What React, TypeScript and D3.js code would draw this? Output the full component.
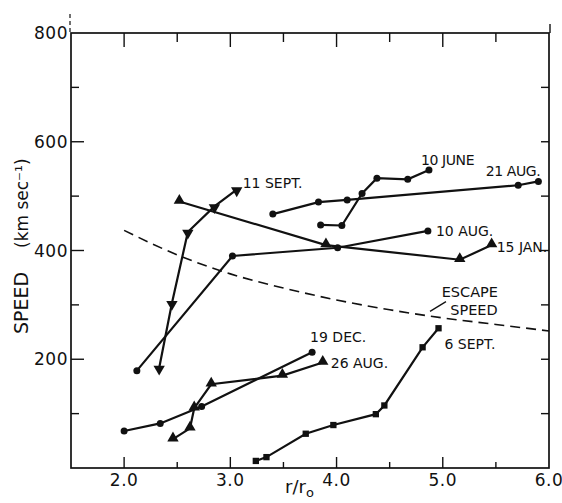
import { useEffect, useRef } from "react";
import * as d3 from "d3";

// r/r0 and speed (km/s)
const sept11 = [[2.33, 184], [2.45, 303], [2.6, 434], [2.85, 481], [3.06, 512]];
const jan15 = [[2.52, 490], [3.9, 410], [5.16, 383], [5.46, 410]];
const aug10 = [[2.12, 179], [3.02, 390], [4.01, 405], [4.86, 436]];
const aug21 = [[3.4, 467], [3.83, 489], [4.1, 493], [5.71, 520], [5.9, 527]];
const june10 = [[3.85, 447], [4.05, 446], [4.24, 505], [4.38, 533], [4.67, 531], [4.87, 548]];
const dec19 = [[2.0, 68], [2.34, 82], [2.73, 113], [3.77, 213]];
const aug26 = [[2.46, 53], [2.62, 73], [2.66, 110], [2.82, 154], [3.49, 170], [3.87, 194]];
const sept6 = [[3.24, 13], [3.34, 20], [3.71, 63], [3.97, 79], [4.37, 99], [4.45, 115], [4.81, 222], [4.96, 257]];
const escape = [[2.0, 437], [2.5, 392], [3.0, 357], [3.5, 331], [4.0, 309], [4.5, 291], [5.0, 276], [5.5, 264], [6.0, 252]];

const xTickLabels = ["2.0", "3.0", "4.0", "5.0", "6.0"];
const yTickLabels = ["200", "400", "600", "800"];

const series = [
  { name: "11 SEPT.", pts: sept11, mark: "down" },
  { name: "15 JAN.", pts: jan15, mark: "up" },
  { name: "10 AUG.", pts: aug10, mark: "circle" },
  { name: "21 AUG.", pts: aug21, mark: "circle" },
  { name: "10 JUNE", pts: june10, mark: "circle" },
  { name: "19 DEC.", pts: dec19, mark: "circle" },
  { name: "26 AUG.", pts: aug26, mark: "up" },
  { name: "6 SEPT.", pts: sept6, mark: "square" },
];

// label offsets (px) from each series' last point
const labelOffset = {
  "11 SEPT.": [6, -2, "start"],
  "15 JAN.": [5, 7, "start"],
  "10 AUG.": [8, 5, "start"],
  "21 AUG.": [2, -5, "end"],
  "10 JUNE": [-8, -5, "start"],
  "19 DEC.": [-2, -10, "start"],
  "26 AUG.": [8, 5, "start"],
  "6 SEPT.": [6, 21, "start"],
};

const W = 562, H = 503;
const FONT = "'DejaVu Sans', sans-serif";

export default function App() {
  const ref = useRef<SVGSVGElement>(null);

  useEffect(() => {
    const svg = d3.select(ref.current);
    svg.selectAll("*").remove();

    const x = d3.scaleLinear().domain([1.5, 6.0]).range([71, 549]);
    const y = d3.scaleLinear().domain([0, 800]).range([468, 33]);
    const [x0, x1] = x.range();
    const [y0, y1] = y.range();

    const ax = svg.append("g").attr("stroke", "#111").attr("fill", "none");
    ax.append("rect").attr("x", x0).attr("y", y1).attr("width", x1 - x0).attr("height", y0 - y1).attr("stroke-width", 1.7);
    // little stubs above the frame
    ax.append("line").attr("x1", x0 - 1).attr("x2", x0 - 1).attr("y1", 14).attr("y2", y1).attr("stroke-dasharray", "4,3").attr("stroke-width", 1.2);
    ax.append("line").attr("x1", x1 + 1).attr("x2", x1 + 1).attr("y1", 24).attr("y2", y1).attr("stroke-width", 1.4);

    d3.range(2.0, 6.01, 0.5).forEach((v) => {
      const major = Math.abs(v - Math.round(v)) < 1e-6;
      if (v < 5.99) {
        ax.append("line").attr("x1", x(v)).attr("x2", x(v)).attr("y1", y0).attr("y2", y0 - (major ? 11 : 6)).attr("stroke-width", 1.4);
        ax.append("line").attr("x1", x(v)).attr("x2", x(v)).attr("y1", y1).attr("y2", y1 + (major ? 14 : 9)).attr("stroke-width", 1.4);
      }
    });
    d3.range(100, 800, 100).forEach((v) => {
      const major = v % 200 === 0;
      ax.append("line").attr("x1", x0).attr("x2", x0 + (major ? 13 : 8)).attr("y1", y(v)).attr("y2", y(v)).attr("stroke-width", 1.4);
      ax.append("line").attr("x1", x1).attr("x2", x1 - 8).attr("y1", y(v)).attr("y2", y(v)).attr("stroke-width", 1.4);
    });

    const txt = svg.append("g").attr("font-family", FONT).attr("fill", "#111");
    xTickLabels.forEach((t) => {
      txt.append("text").attr("x", x(+t)).attr("y", 486).attr("text-anchor", "middle")
        .attr("font-size", 17).attr("letter-spacing", 0.5).text(t);
    });
    yTickLabels.forEach((t) => {
      txt.append("text").attr("x", x0 - 3).attr("y", y(+t) + 6).attr("text-anchor", "end")
        .attr("font-size", 17).attr("letter-spacing", 0.5).text(t);
    });

    txt.append("text").attr("transform", "translate(28,334) rotate(-90)").attr("font-size", 19).text("SPEED");
    txt.append("text").attr("transform", "translate(28,248) rotate(-90)").attr("font-size", 17).text("(km sec⁻¹)");

    const xl = txt.append("text").attr("x", 285).attr("y", 493).attr("font-size", 18);
    xl.append("tspan").text("r/r");
    xl.append("tspan").attr("dy", 4).attr("font-size", 13).text("o");

    // escape speed
    const esc = d3.line().x((d) => x(d[0])).y((d) => y(d[1])).curve(d3.curveMonotoneX);
    svg.append("path").attr("d", esc(escape as any)).attr("fill", "none").attr("stroke", "#111")
      .attr("stroke-width", 1.6).attr("stroke-dasharray", "10,6");
    txt.append("text").attr("x", x(4.99)).attr("y", y(314)).attr("font-size", 14.5).text("ESCAPE");
    txt.append("text").attr("x", x(5.07)).attr("y", y(282)).attr("font-size", 14.5).text("SPEED");
    svg.append("line").attr("x1", x(4.88)).attr("y1", y(288)).attr("x2", x(5.03)).attr("y2", y(306))
      .attr("stroke", "#111").attr("stroke-width", 1.3);

    const line = d3.line().x((d) => x(d[0])).y((d) => y(d[1]));
    const tri = d3.symbol().type(d3.symbolTriangle).size(56);
    const sq = d3.symbol().type(d3.symbolSquare).size(40);

    series.forEach((s) => {
      const g = svg.append("g");
      g.append("path").attr("d", line(s.pts as any)).attr("fill", "none").attr("stroke", "#111").attr("stroke-width", 2.2);
      s.pts.forEach((p) => {
        const px = x(p[0]), py = y(p[1]);
        if (s.mark === "circle") g.append("circle").attr("cx", px).attr("cy", py).attr("r", 3.5).attr("fill", "#111");
        else if (s.mark === "square") g.append("path").attr("d", sq()).attr("transform", `translate(${px},${py})`).attr("fill", "#111");
        else g.append("path").attr("d", tri()).attr("transform", `translate(${px},${py + (s.mark === "down" ? 1 : -1)}) rotate(${s.mark === "down" ? 180 : 0})`).attr("fill", "#111");
      });
      const last = s.pts[s.pts.length - 1];
      const [dx, dy, anchor] = labelOffset[s.name];
      txt.append("text").attr("x", x(last[0]) + dx).attr("y", y(last[1]) + dy)
        .attr("text-anchor", anchor).attr("font-size", 14)
        .attr("letter-spacing", s.name === "21 AUG." || s.name === "10 JUNE" ? -0.4 : 0).text(s.name);
    });
  }, []);

  return (
    <svg ref={ref} width={W} height={H} style={{ position: "absolute", left: 0, top: 0, background: "#fff" }} />
  );
}
